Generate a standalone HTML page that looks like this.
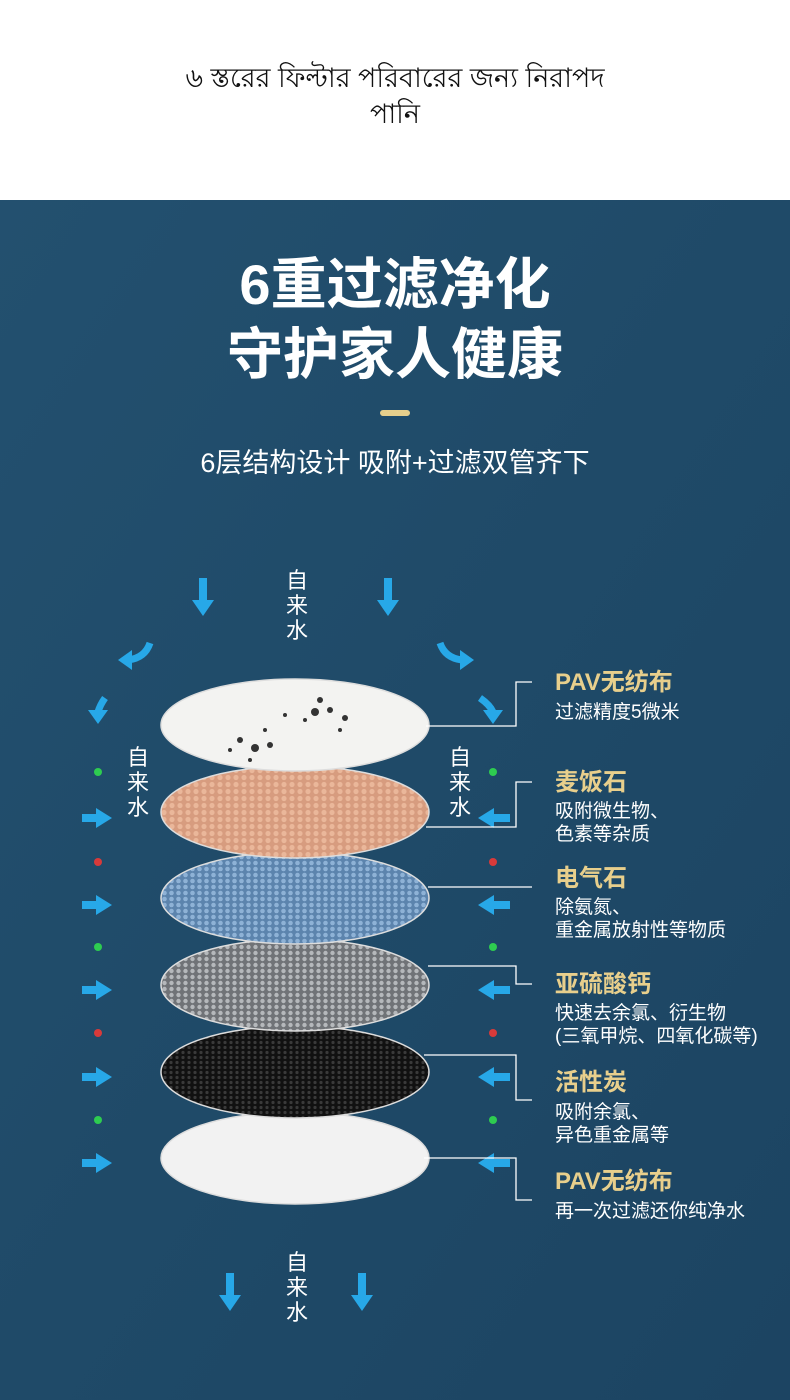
<!DOCTYPE html>
<html><head><meta charset="utf-8"><style>
body{margin:0;width:790px;height:1400px;overflow:hidden;background:#fff;font-family:"Liberation Sans","Noto Sans CJK SC",sans-serif}
.top{position:absolute;left:0;top:0;width:790px;height:200px;background:#fff}
.top p{position:absolute;left:0;width:790px;text-align:center;margin:0;font-size:27px;color:#111;line-height:36px}
</style></head><body>
<div class="top"><p style="top:60px">৬ স্তরের ফিল্টার  পরিবারের জন্য নিরাপদ<br>পানি</p></div>
<svg width="790" height="1200" style="position:absolute;left:0;top:200px" font-family="Liberation Sans, Noto Sans CJK SC, sans-serif">
<defs>
<linearGradient id="bg" x1="0" y1="0" x2="1" y2="1"><stop offset="0" stop-color="#23506f"/><stop offset="0.5" stop-color="#1f4a68"/><stop offset="1" stop-color="#1c4462"/></linearGradient>
<pattern id="pb" width="8" height="7" patternUnits="userSpaceOnUse"><rect width="8" height="7" fill="#d79c7f"/><circle cx="4" cy="3.5" r="2.6" fill="#eab79a"/></pattern>
<pattern id="pl" width="7" height="6" patternUnits="userSpaceOnUse"><rect width="7" height="6" fill="#5c84ad"/><circle cx="3.5" cy="3" r="2.3" fill="#8eb2d6"/></pattern>
<pattern id="pg" width="7" height="6" patternUnits="userSpaceOnUse"><rect width="7" height="6" fill="#707377"/><circle cx="3.5" cy="3" r="2.2" fill="#b5b8bb"/></pattern>
<pattern id="pk" width="6" height="5" patternUnits="userSpaceOnUse"><rect width="6" height="5" fill="#111"/><circle cx="3" cy="2.5" r="1.6" fill="#3a3a3a"/></pattern>
<g id="ar"><rect x="-4" y="-22" width="8" height="24" fill="#27a8e8"/><path d="M-11 0 L11 0 L0 16 Z" fill="#27a8e8"/></g>
</defs>
<rect width="790" height="1200" fill="url(#bg)"/>
<g fill="#fff" font-weight="bold" text-anchor="middle">
<text x="395" y="104" font-size="56">6重过滤净化</text>
<text x="395" y="174" font-size="56">守护家人健康</text>
</g>
<rect x="380" y="210" width="30" height="6" rx="3" fill="#e6cf8c"/>
<text x="395" y="272" font-size="27" fill="#fff" text-anchor="middle">6层结构设计 吸附+过滤双管齐下</text>
<g fill="#fff" font-size="22" text-anchor="middle">
<text x="297" y="388">自</text><text x="297" y="413">来</text><text x="297" y="438">水</text>
<text x="138" y="565">自</text><text x="138" y="590">来</text><text x="138" y="615">水</text>
<text x="460" y="565">自</text><text x="460" y="590">来</text><text x="460" y="615">水</text>
<text x="297" y="1070">自</text><text x="297" y="1095">来</text><text x="297" y="1120">水</text>
</g>
<use href="#ar" x="203" y="400"/><use href="#ar" x="388" y="400"/>
<use href="#ar" x="230" y="1095"/><use href="#ar" x="362" y="1095"/>
<g fill="none" stroke="#27a8e8" stroke-width="7">
<path d="M150 443 Q145 458 128 460"/><path d="M440 443 Q445 458 462 460"/>
<path d="M105 498 Q100 505 98 512"/><path d="M480 498 Q490 505 493 512"/>
</g>
<g fill="#27a8e8">
<path d="M118 460 L132 450 L132 470Z"/><path d="M474 460 L460 450 L460 470Z"/>
<path d="M88 510 L108 510 L98 524Z"/><path d="M483 510 L503 510 L493 524Z"/>
</g>
<g fill="#27a8e8">
<g id="rr"><rect x="82" y="614" width="14" height="8"/><path d="M96 608 L112 618 L96 628Z"/></g>
<use href="#rr" y="87"/><use href="#rr" y="172"/><use href="#rr" y="259"/><use href="#rr" y="345"/>
<g id="ll"><rect x="494" y="614" width="16" height="8"/><path d="M494 608 L478 618 L494 628Z"/></g>
<use href="#ll" y="87"/><use href="#ll" y="172"/><use href="#ll" y="259"/><use href="#ll" y="345"/>
</g>
<g>
<circle cx="98" cy="572" r="4" fill="#2ecc50"/><circle cx="493" cy="572" r="4" fill="#2ecc50"/>
<circle cx="98" cy="662" r="4" fill="#d83a3a"/><circle cx="493" cy="662" r="4" fill="#d83a3a"/>
<circle cx="98" cy="747" r="4" fill="#2ecc50"/><circle cx="493" cy="747" r="4" fill="#2ecc50"/>
<circle cx="98" cy="833" r="4" fill="#d83a3a"/><circle cx="493" cy="833" r="4" fill="#d83a3a"/>
<circle cx="98" cy="920" r="4" fill="#2ecc50"/><circle cx="493" cy="920" r="4" fill="#2ecc50"/>
</g>
<g stroke="#ddd" stroke-width="1.5">
<ellipse cx="295" cy="958" rx="134" ry="46" fill="#f2f2f2"/>
<ellipse cx="295" cy="872" rx="134" ry="46" fill="url(#pk)"/>
<ellipse cx="295" cy="785" rx="134" ry="46" fill="url(#pg)"/>
<ellipse cx="295" cy="698" rx="134" ry="46" fill="url(#pl)"/>
<ellipse cx="295" cy="612" rx="134" ry="46" fill="url(#pb)"/>
<ellipse cx="295" cy="525" rx="134" ry="46" fill="#f3f3f1"/>
</g>
<g fill="#333">
<circle cx="240" cy="540" r="3"/><circle cx="255" cy="548" r="4"/><circle cx="270" cy="545" r="3"/><circle cx="230" cy="550" r="2"/><circle cx="265" cy="530" r="2"/><circle cx="320" cy="500" r="3"/><circle cx="315" cy="512" r="4"/><circle cx="330" cy="510" r="3"/><circle cx="305" cy="520" r="2"/><circle cx="340" cy="530" r="2"/><circle cx="345" cy="518" r="3"/><circle cx="250" cy="560" r="2"/><circle cx="285" cy="515" r="2"/>
</g>
<g fill="none" stroke="#fff" stroke-width="1.3">
<path d="M426 526 H516 V482 H532"/>
<path d="M426 627 H516 V582 H532"/>
<path d="M428 687 H532"/>
<path d="M428 766 H516 V784 H532"/>
<path d="M424 855 H516 V900 H532"/>
<path d="M424 958 H516 V1000 H532"/>
</g>
<g font-size="24" font-weight="bold" fill="#e8cf8c">
<text x="555" y="490">PAV无纺布</text><text x="555" y="590">麦饭石</text><text x="555" y="686">电气石</text>
<text x="555" y="792">亚硫酸钙</text><text x="555" y="890">活性炭</text><text x="555" y="989">PAV无纺布</text>
</g>
<g font-size="19" fill="#fff">
<text x="555" y="518">过滤精度5微米</text>
<text x="555" y="617">吸附微生物、</text><text x="555" y="640">色素等杂质</text>
<text x="555" y="713">除氨氮、</text><text x="555" y="736">重金属放射性等物质</text>
<text x="555" y="819">快速去余氯、衍生物</text><text x="555" y="842">(三氧甲烷、四氧化碳等)</text>
<text x="555" y="918">吸附余氯、</text><text x="555" y="941">异色重金属等</text>
<text x="555" y="1017">再一次过滤还你纯净水</text>
</g>
</svg>
</body></html>
